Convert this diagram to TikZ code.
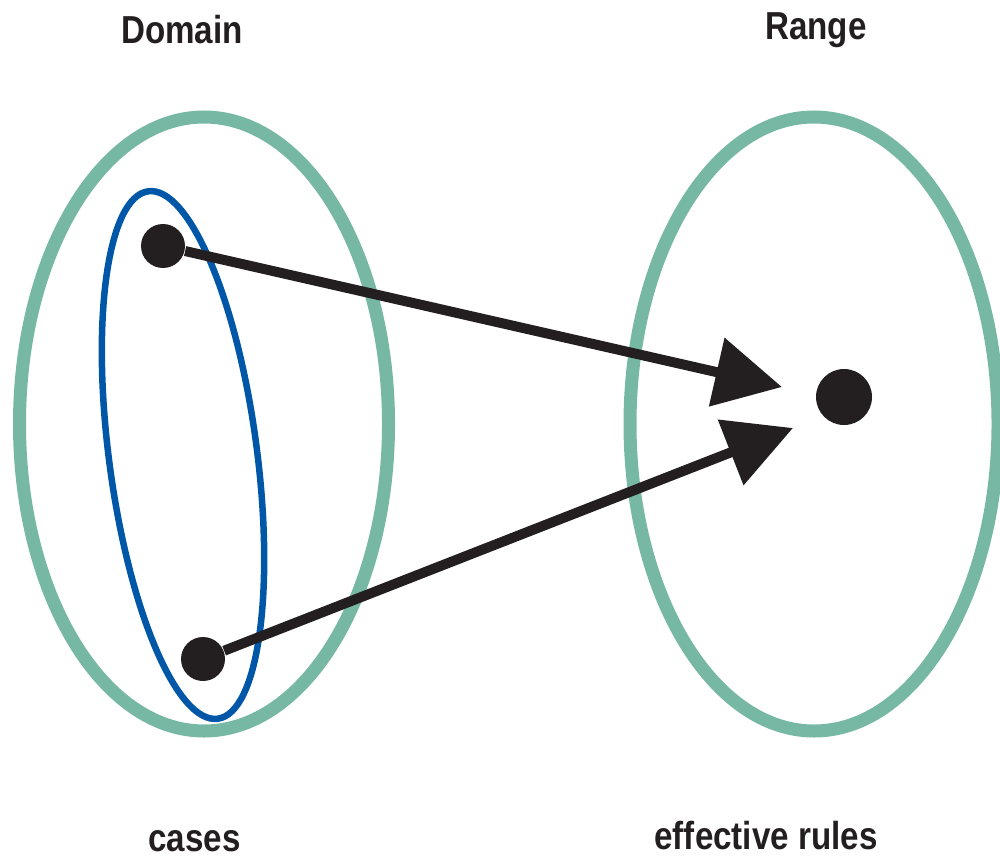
\documentclass[tikz,border=0pt]{standalone}
\usepackage{fontspec}
\newfontfamily\lblfont{Liberation Sans}[FakeStretch=0.85]
\usetikzlibrary{arrows.meta}
\definecolor{setgreen}{HTML}{76B8A3}
\definecolor{caseblue}{HTML}{0057A8}
\definecolor{ink}{HTML}{231F20}
\begin{document}
\begin{tikzpicture}[>={Triangle[length=6.7mm,width=6.8mm]},
  dot/.style={circle,fill=ink,inner sep=0pt},
  lbl/.style={font=\lblfont\bfseries\fontsize{11.1pt}{13pt}\selectfont,text=ink,anchor=base,inner sep=0pt},
  setline/.style={draw=setgreen,line width=0.13cm},
  arr/.style={->,draw=ink,fill=ink,line width=0.1cm}]
  \useasboundingbox (0,0) rectangle (10,8.57);

  % domain and range sets
  \draw[setline] (2.04,4.33) ellipse [x radius=1.845cm,y radius=3.07cm];
  \draw[setline] (8.14,4.33) ellipse [x radius=1.84cm,y radius=3.07cm];
  \draw[draw=caseblue,line width=0.065cm,rotate around={7.5:(1.83,4.02)}]
    (1.83,4.02) ellipse [x radius=0.74cm,y radius=2.66cm];

  \node[dot,minimum size=0.44cm] (a) at (1.63,6.11) {};
  \node[dot,minimum size=0.44cm] (b) at (2.03,1.98) {};
  \node[dot,minimum size=0.56cm] (c) at (8.44,4.60) {};
  \coordinate (t1) at (7.82,4.70);
  \coordinate (t2) at (7.93,4.29);

  \draw[arr] (a) -- (t1);
  \draw[arr] (b) -- (t2);

  \node[lbl] (dom) at (1.82,8.13) {Domain};
  \node[lbl] (rng) at (8.16,8.17) {Range};
  \node[lbl] (cas) at (1.945,0.06) {cases};
  \node[lbl] (eff) at (7.66,0.08) {effective rules};
\end{tikzpicture}
\end{document}
